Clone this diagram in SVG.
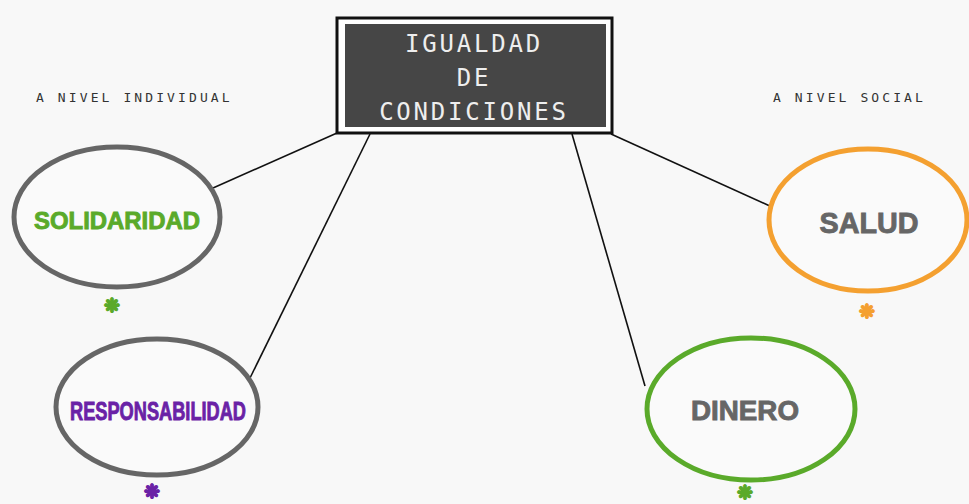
<svg xmlns="http://www.w3.org/2000/svg" width="969" height="504" viewBox="0 0 969 504">
<style>
.lbl{font-family:"DejaVu Sans Mono","Liberation Mono",monospace;font-size:13px;letter-spacing:3.1px;fill:#333}
.title{font-family:"DejaVu Sans Mono","Liberation Mono",monospace;font-size:24px;letter-spacing:2.8px;fill:#eeeeee;text-anchor:middle}
.node{fill:#fafafa;stroke-width:5}
.word{font-family:"Liberation Sans","Arial",sans-serif;font-weight:bold;text-anchor:middle;stroke-width:0.9}
.star{font-family:"DejaVu Sans",sans-serif;font-size:19px;text-anchor:middle;stroke-width:1.6}
.conn{stroke:#111;stroke-width:1.6;fill:none}
</style>
<rect width="969" height="504" fill="#f8f8f8"/>
<g id="connectors">
<line class="conn" x1="337" y1="133" x2="213" y2="188"/>
<line class="conn" x1="370" y1="134" x2="250" y2="378"/>
<line class="conn" x1="572" y1="134" x2="645" y2="386"/>
<line class="conn" x1="611" y1="134" x2="772" y2="207"/>
</g>
<g id="labels">
<text class="lbl" x="36" y="102">A NIVEL INDIVIDUAL</text>
<text class="lbl" x="773" y="102">A NIVEL SOCIAL</text>
</g>
<g id="center">
<rect x="337" y="18" width="275" height="115" fill="#fff" stroke="#111" stroke-width="3"/>
<rect x="345" y="24" width="261" height="103" fill="#464646"/>
<text class="title" x="474" y="52">IGUALDAD</text>
<text class="title" x="474" y="86">DE</text>
<text class="title" x="474" y="120">CONDICIONES</text>
</g>
<g id="solidaridad">
<ellipse class="node" cx="117" cy="217" rx="103" ry="70" stroke="#666"/>
<text class="word" x="117" y="229" font-size="24" fill="#5aaa2a" stroke="#5aaa2a" textLength="166" lengthAdjust="spacingAndGlyphs">SOLIDARIDAD</text>
<text class="star" x="112" y="312" fill="#5aaa2a" stroke="#5aaa2a">❋</text>
</g>
<g id="responsabilidad">
<ellipse class="node" cx="157" cy="407" rx="101" ry="68" stroke="#666"/>
<text class="word" x="158" y="420" font-size="26" fill="#6a22a6" stroke="#6a22a6" textLength="176" lengthAdjust="spacingAndGlyphs">RESPONSABILIDAD</text>
<text class="star" x="152" y="498" fill="#6a22a6" stroke="#6a22a6">❋</text>
</g>
<g id="dinero">
<ellipse class="node" cx="751" cy="409" rx="104" ry="71" stroke="#5aaa2a"/>
<text class="word" x="745" y="420" font-size="28" fill="#666" stroke="#666" textLength="108" lengthAdjust="spacingAndGlyphs">DINERO</text>
<text class="star" x="745" y="499" fill="#5aaa2a" stroke="#5aaa2a">❋</text>
</g>
<g id="salud">
<ellipse class="node" cx="868" cy="220" rx="99" ry="71" stroke="#f4a030"/>
<text class="word" x="869" y="233" font-size="30" fill="#666" stroke="#666" textLength="99" lengthAdjust="spacingAndGlyphs">SALUD</text>
<text class="star" x="867" y="318" fill="#f4a030" stroke="#f4a030">❋</text>
</g>
</svg>
